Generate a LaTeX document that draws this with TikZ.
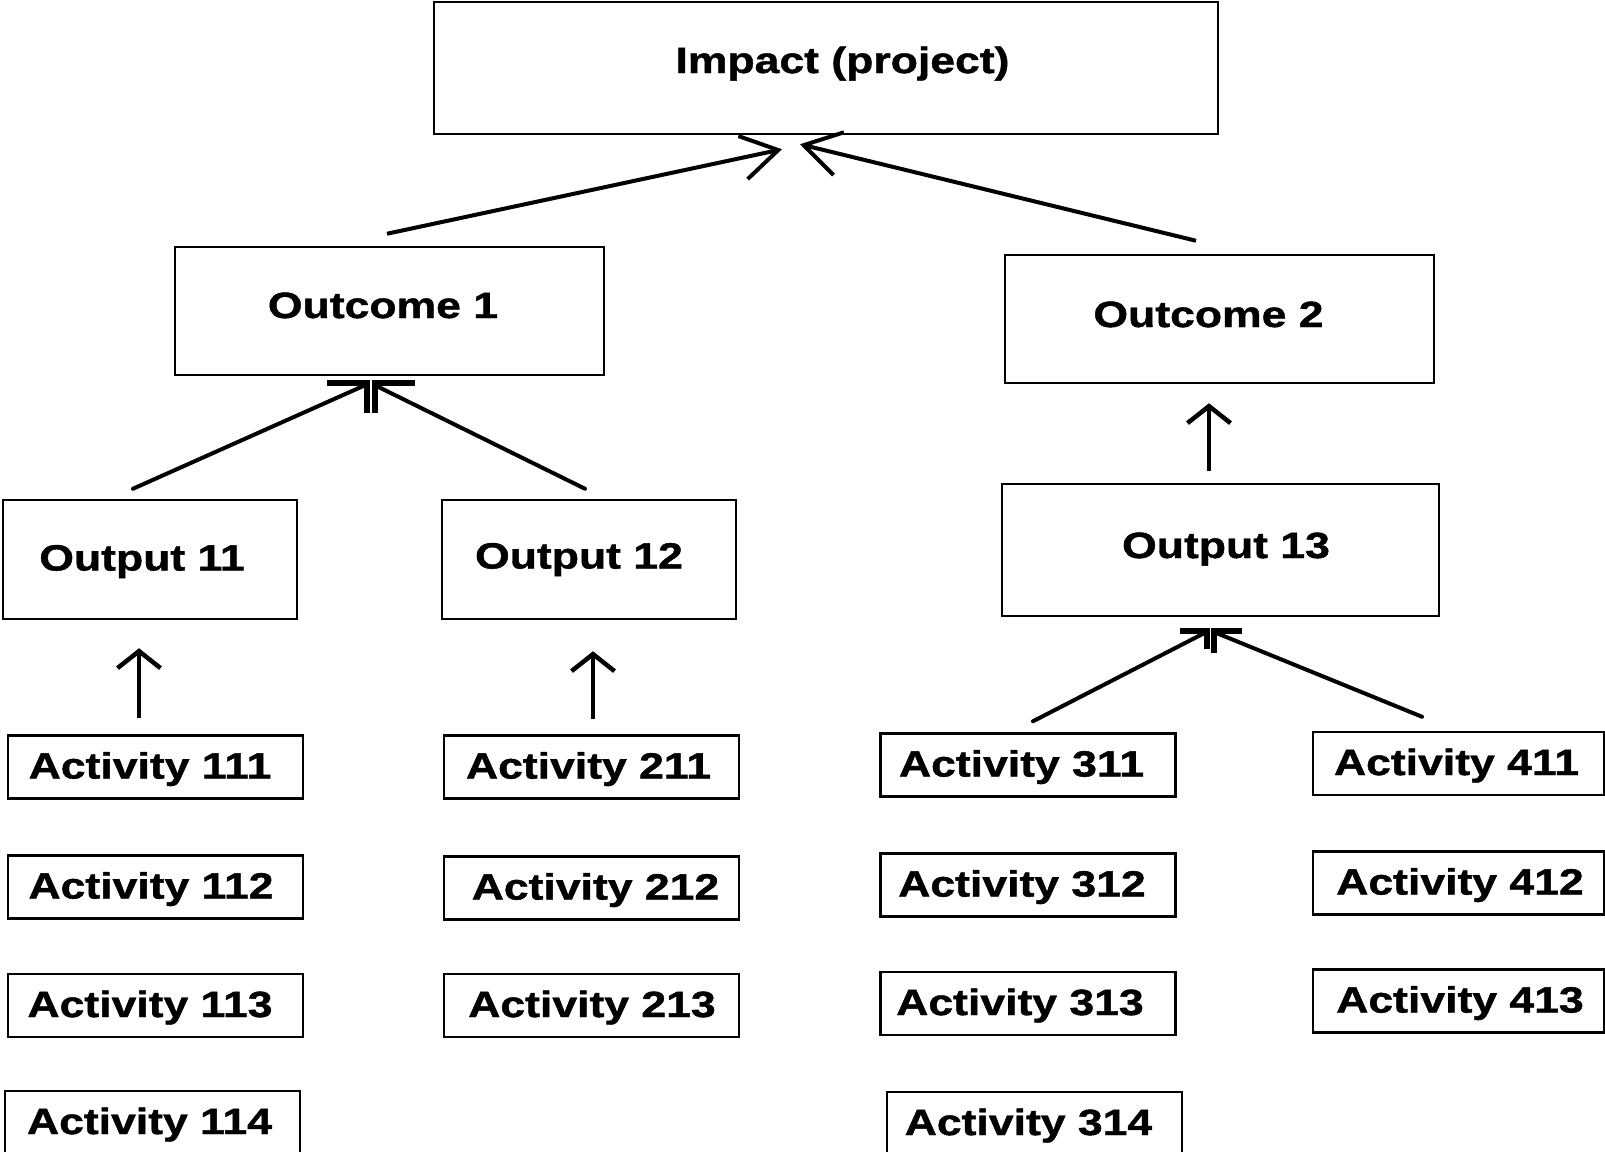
\documentclass[tikz,border=0pt]{standalone}
\usepackage{fontspec}
\newfontfamily\lblfont{Liberation Sans}[FakeStretch=1.22, FakeBold=1.2]
\usetikzlibrary{arrows.meta,calc}
\tikzset{
  box/.style 2 args={draw=black, line width=2.5pt, inner sep=0pt, minimum width=#1pt, minimum height=#2pt},
  actbox/.style={box={295}{63}},
  lbl/.style={font=\lblfont\bfseries\fontsize{36.5pt}{40pt}\selectfont, inner sep=0pt, anchor=base, text=black},
  conn/.style={line width=4pt, line cap=round},
  vconn/.style={line width=4.5pt, -{Straight Barb[length=17pt, width=43pt]}},
  topconn/.style={line width=4pt, -{Straight Barb[length=36pt, width=44pt]}},
  corner/.style={line width=6pt, line join=miter}
}
\begin{document}
\begin{tikzpicture}[x=1pt, y=-1pt]
\useasboundingbox (0,0) rectangle (1605,1151);
\clip (0,0) rectangle (1605,1151);
\fill[white] (0,0) rectangle (1605,1151);

% boxes
\node[box={784}{132}] (imp) at (826,68) {};
\node[box={429}{128}] (oc1) at (389.5,311) {};
\node[box={429}{128}] (oc2) at (1219.5,319) {};
\node[box={294}{119}] (op11) at (150,559.5) {};
\node[box={294}{119}] (op12) at (589,559.5) {};
\node[box={437}{132}] (op13) at (1220.5,550) {};

\node[actbox] (a111) at (155.5,767) {};
\node[actbox] (a112) at (155.5,887) {};
\node[actbox] (a113) at (155.5,1005.5) {};
\node[actbox] (a114) at (152.5,1122.5) {};
\node[actbox] (a211) at (591.5,767) {};
\node[actbox] (a212) at (591.5,888) {};
\node[actbox] (a213) at (591.5,1005.5) {};
\node[actbox] (a311) at (1028,765) {};
\node[actbox] (a312) at (1028,885) {};
\node[actbox] (a313) at (1028,1003.5) {};
\node[actbox] (a314) at (1034.5,1123.5) {};
\node[box={291}{63}] (a411) at (1458.5,763.5) {};
\node[box={291}{63}] (a412) at (1458.5,883) {};
\node[box={291}{63}] (a413) at (1458.5,1001) {};

% texts
\node[lbl] (timp) at ([shift={(16.5,5)}]imp.center) {Impact (project)};
\node[lbl] (toc1) at ([shift={(-6.5,7)}]oc1.center) {Outcome 1};
\node[lbl] (toc2) at ([shift={(-11,8)}]oc2.center) {Outcome 2};
\node[lbl] (top11) at ([shift={(-8,11)}]op11.center) {Output 11};
\node[lbl] (top12) at ([shift={(-10,9)}]op12.center) {Output 12};
\node[lbl] (top13) at ([shift={(5.5,8)}]op13.center) {Output 13};

\node[lbl] (t111) at ([shift={(-5.5,11.5)}]a111.center) {Activity 111};
\node[lbl] (t112) at ([shift={(-4.5,11.5)}]a112.center) {Activity 112};
\node[lbl] (t113) at ([shift={(-5.5,11.5)}]a113.center) {Activity 113};
\node[lbl] (t114) at ([shift={(-3,11.5)}]a114.center) {Activity 114};
\node[lbl] (t211) at ([shift={(-3,11.5)}]a211.center) {Activity 211};
\node[lbl] (t212) at ([shift={(4,11.5)}]a212.center) {Activity 212};
\node[lbl] (t213) at ([shift={(0.5,11.5)}]a213.center) {Activity 213};
\node[lbl] (t311) at ([shift={(-6.5,11.5)}]a311.center) {Activity 311};
\node[lbl] (t312) at ([shift={(-6,11.5)}]a312.center) {Activity 312};
\node[lbl] (t313) at ([shift={(-8,11.5)}]a313.center) {Activity 313};
\node[lbl] (t314) at ([shift={(-6,11.5)}]a314.center) {Activity 314};
\node[lbl] (t411) at ([shift={(-2,11.5)}]a411.center) {Activity 411};
\node[lbl] (t412) at ([shift={(1.5,11.5)}]a412.center) {Activity 412};
\node[lbl] (t413) at ([shift={(1.5,11.5)}]a413.center) {Activity 413};

% outcomes -> impact
\draw[topconn] ([shift={(-2.5,-12)}]oc1.north) -- ([shift={(-44,14)}]imp.south);
\draw[topconn] ([shift={(-23.5,-13)}]oc2.north) -- ([shift={(-26,9)}]imp.south);

% outputs -> outcome 1
\coordinate (h1) at ([shift={(-22.5,7)}]oc1.south);
\coordinate (h2) at ([shift={(-14.5,7)}]oc1.south);
\draw[conn] ([shift={(-17,-10)}]op11.north) -- ([shift={(-24.5,9)}]oc1.south);
\draw[conn] ([shift={(-4,-10)}]op12.north) -- ([shift={(-12.5,10)}]oc1.south);
\draw[corner] ($(h1)+(-40,0)$) -- (h1) -- ($(h1)+(0,30)$);
\draw[corner] ($(h2)+(40,0)$) -- (h2) -- ($(h2)+(0,30)$);

% vertical arrows
\draw[vconn] ([shift={(-16.5,-16.5)}]a111.north) -- ([shift={(-11,28)}]op11.south);
\draw[vconn] ([shift={(1.5,-15.5)}]a211.north) -- ([shift={(4,31)}]op12.south);
\draw[vconn] ([shift={(-11.5,-12)}]op13.north) -- ([shift={(-10.5,19)}]oc2.south);

% activities -> output 13
\coordinate (h3) at ([shift={(-13.5,14)}]op13.south);
\coordinate (h4) at ([shift={(-6.5,14)}]op13.south);
\draw[conn] ([shift={(5,-11)}]a311.north) -- ([shift={(-16.5,16)}]op13.south);
\draw[conn] ([shift={(-36.5,-14)}]a411.north) -- ([shift={(-3.5,16)}]op13.south);
\draw[corner] ($(h3)+(-27,0)$) -- (h3) -- ($(h3)+(0,18)$);
\draw[corner] ($(h4)+(28,0)$) -- (h4) -- ($(h4)+(0,22)$);
\end{tikzpicture}
\end{document}
